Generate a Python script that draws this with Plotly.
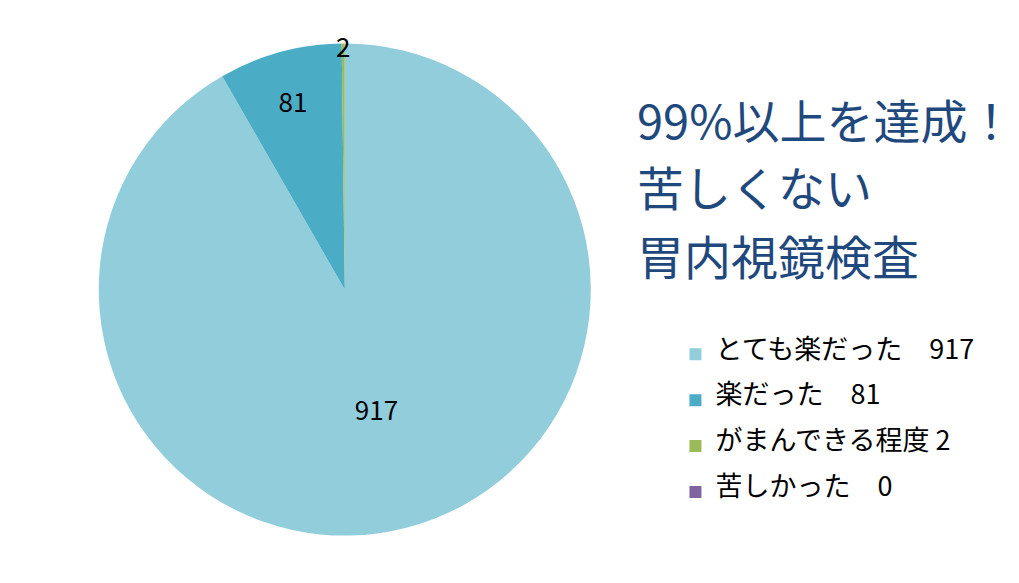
import plotly.graph_objects as go

categories = ["とても楽だった　917", "楽だった　81", "がまんできる程度 2", "苦しかった　0"]
values = [917, 81, 2, 0]
colors = ["#92CDDC", "#4BACC6", "#9BBB59", "#8064A2"]
title_lines = ["99%以上を達成！", "苦しくない", "胃内視鏡検査"]

font = "Noto Sans CJK JP"

# padded legend labels so entries sit further apart
legend_labels = ["&nbsp;<br><span style='font-size:27px'>%s</span><br>&nbsp;" % c for c in categories]

fig = go.Figure(go.Pie(
    labels=legend_labels,
    values=values,
    sort=False,
    direction="clockwise",
    rotation=0,
    marker=dict(colors=colors, line=dict(width=0)),
    textinfo="value",
    textposition=["inside", "inside", "inside", "none"],
    insidetextorientation="horizontal",
    textfont=dict(family=font, size=26, color="black"),
    hoverinfo="value",
    domain=dict(x=[0.089, 0.572], y=[0.095, 0.939]),
))

for i, line in enumerate(title_lines):
    fig.add_annotation(
        text=line,
        x=0.615, y=[0.810, 0.695, 0.578][i], xref="paper", yref="paper",
        xanchor="left", yanchor="middle", align="left", showarrow=False,
        font=dict(family=font, size=47, color="#1F497D"),
    )

fig.update_layout(
    width=1019, height=583,
    margin=dict(l=0, r=0, t=0, b=0),
    paper_bgcolor="white",
    showlegend=True,
    uniformtext=dict(minsize=26, mode="show"),
    legend=dict(
        x=0.655, y=0.454, xanchor="left", yanchor="top",
        font=dict(family=font, size=11, color="black"),
        itemwidth=30,
    ),
)

fig.write_html("out.html")
